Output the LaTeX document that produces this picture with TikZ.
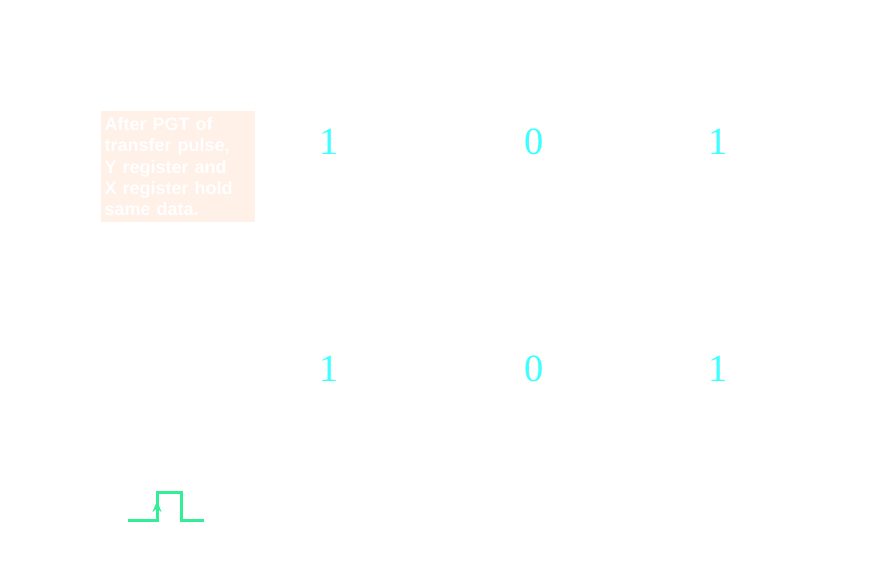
\documentclass[tikz,border=0pt]{standalone}
\usepackage{fontspec}
\newfontfamily\notefont{Liberation Sans}
\newfontfamily\bitfont{Liberation Serif}
\usetikzlibrary{arrows.meta}
\definecolor{bitcyan}{RGB}{60,255,255}
\definecolor{notefill}{RGB}{255,240,232}
\definecolor{pulsegreen}{RGB}{50,238,150}

\begin{document}
\begin{tikzpicture}[x=1pt, y=-1pt,
    bit/.style={text=bitcyan, font=\bitfont\fontsize{38.5}{38.5}\selectfont, inner sep=0pt},
    note/.style={fill=notefill, text=white, align=left, anchor=north west,
        font=\notefont\bfseries\fontsize{18}{21.3}\selectfont,
        text width=147pt, minimum width=153pt, minimum height=111pt,
        inner sep=3.5pt},
    pulse/.style={draw=pulsegreen, line width=3pt}]
    \useasboundingbox (0,0) rectangle (896,575);
    \node[note] (msg) at (101,111) {After PGT of\\transfer pulse,\\Y register and\\X register hold\\same data.};
    % Y register bits
    \node[bit] (y2) at (329.5,141.5) {1};
    \node[bit] (y1) at (534.5,141.5) {0};
    \node[bit] (y0) at (718.5,141.5) {1};
    % X register bits
    \node[bit] (x2) at (329.5,368.5) {1};
    \node[bit] (x1) at (534.5,368.5) {0};
    \node[bit] (x0) at (718.5,368.5) {1};
    % transfer pulse
    \coordinate (p0) at (128,520);
    \coordinate (p1) at (157,520);
    \coordinate (p2) at (157,492);
    \coordinate (p3) at (181,492);
    \coordinate (p4) at (181,520);
    \coordinate (p5) at (204,520);
    \coordinate (pm) at (157,501);
    \draw[pulse] (p0) -- (p1) -- (p2) -- (p3) -- (p4) -- (p5);
    \draw[pulse, -{Stealth[length=11pt, width=9pt]}] (p1) -- (pm);
\end{tikzpicture}
\end{document}
